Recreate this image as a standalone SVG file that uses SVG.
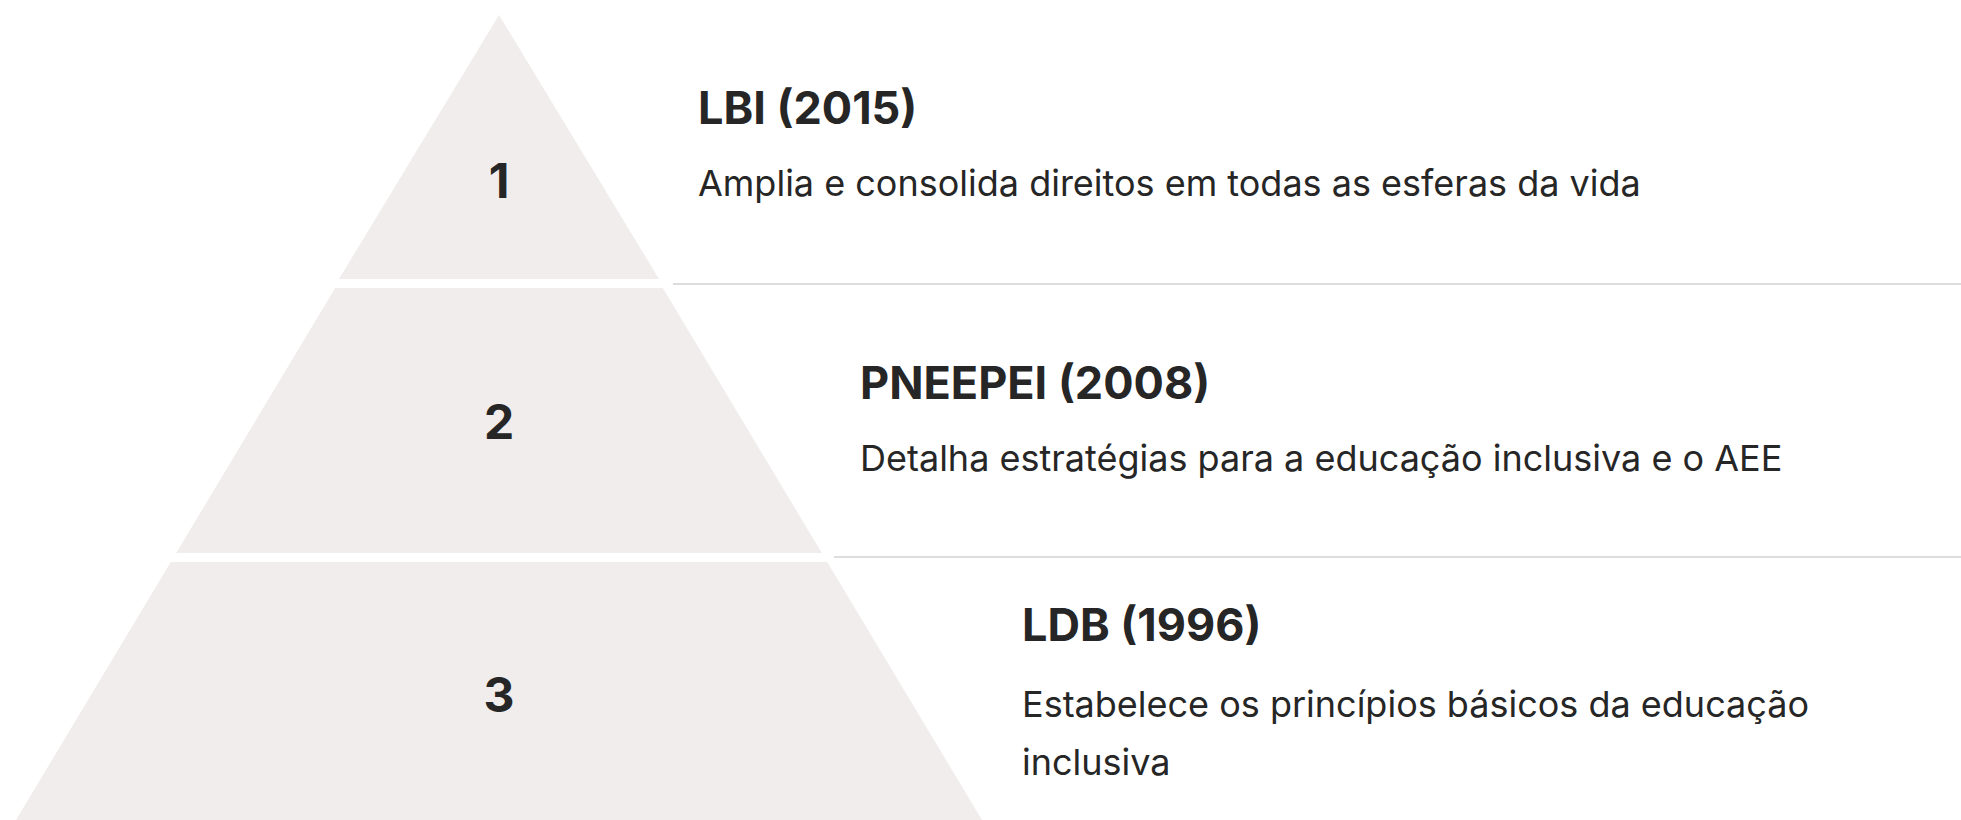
<svg xmlns="http://www.w3.org/2000/svg" width="1961" height="820" viewBox="0 0 1961 820">
  <style>
    .tier { fill: #f0edec; }
    .num { font-family: Inter, "Noto Sans", "Liberation Sans", sans-serif; font-weight: 700; font-size: 48px; fill: #262626; text-anchor: middle; }
    .head { font-family: Inter, "Noto Sans", "Liberation Sans", sans-serif; font-weight: 700; font-size: 45px; fill: #262626; }
    .desc { font-family: Inter, "Noto Sans", "Liberation Sans", sans-serif; font-weight: 400; font-size: 36px; fill: #262626; }
    .divider { stroke: #dddddd; stroke-width: 2; fill: none; }
  </style>
  <rect width="1961" height="820" fill="#ffffff"/>
  <g id="connectors">
    <line class="divider" x1="673" y1="284" x2="1961" y2="284"/>
    <line class="divider" x1="834" y1="557" x2="1961" y2="557"/>
  </g>
  <g id="tier1">
    <polygon class="tier" points="499,15 659,279 339,279"/>
    <text class="num" x="499" y="198">1</text>
    <text class="head" x="698" y="124">LBI (2015)</text>
    <text class="desc" x="698" y="196">Amplia e consolida direitos em todas as esferas da vida</text>
  </g>
  <g id="tier2">
    <polygon class="tier" points="335.2,288 662.8,288 821.8,553 176.2,553"/>
    <text class="num" x="499" y="439">2</text>
    <text class="head" x="860" y="399">PNEEPEI (2008)</text>
    <text class="desc" x="860" y="471">Detalha estratégias para a educação inclusiva e o AEE</text>
  </g>
  <g id="tier3">
    <polygon class="tier" points="170.8,562 827.2,562 988,830 10,830"/>
    <text class="num" x="499" y="712">3</text>
    <text class="head" x="1022" y="641">LDB (1996)</text>
    <text class="desc" x="1022" y="717">Estabelece os princípios básicos da educação</text>
    <text class="desc" x="1022" y="775">inclusiva</text>
  </g>
</svg>
